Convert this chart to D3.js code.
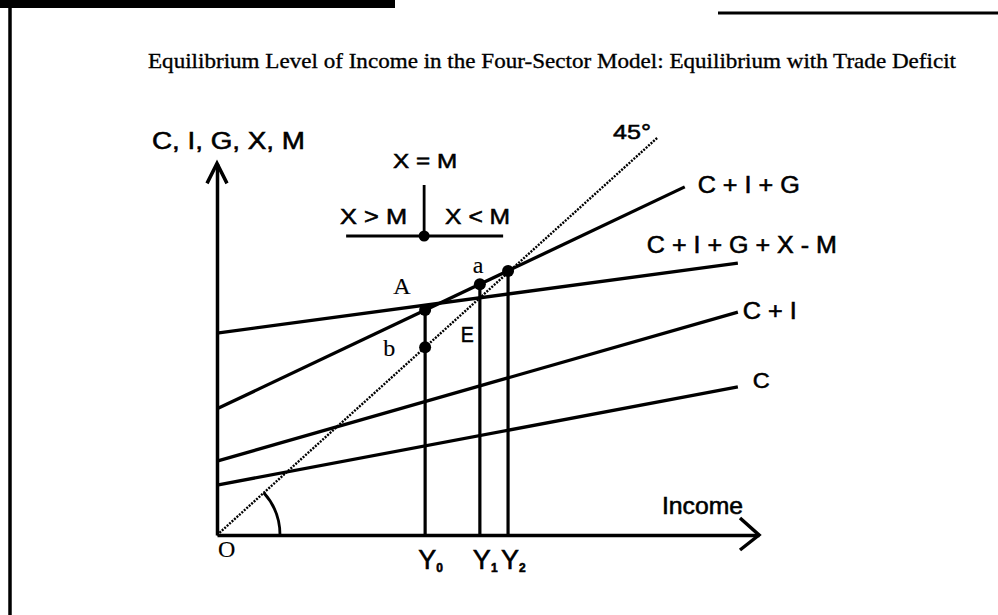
<!DOCTYPE html>
<html><head><meta charset="utf-8">
<script src="https://cdn.jsdelivr.net/npm/d3@7"></script>
<style>body{margin:0;background:#fff} svg{display:block} text{fill:#000;stroke:#000;stroke-width:0.55px} text.serif{stroke-width:0.15px}</style>
</head><body><svg id="c" width="998" height="615"></svg>
<script>
// ---- data ----
const titleText = "Equilibrium Level of Income in the Four-Sector Model: Equilibrium with Trade Deficit";
const yAxisTitle = "C, I, G, X, M";
const xAxisTitle = "Income";
const seriesNames = ["C", "C + I", "C + I + G", "C + I + G + X - M"];
const seriesStart = [10.2, 15.1, 25.8, 41.3];      // value at income 0
const seriesEndIncome = [96.1, 96.1, 86.3, 96.1];
const seriesEnd = [30.3, 45.6, 71.2, 55.6];
const line45End = 81.2;
const incomeLevels = [38.4, 48.5, 53.7];
const incomeSubs = ["0", "1", "2"];
const incomeTops = [46.0, 51.3, 54.0];
const pointNames = ["A", "a", "b", ""];
const pointIncome = [38.4, 48.5, 38.4, 53.7];
const pointValue = [46.0, 51.3, 38.4, 54.0];
const insetTop = "X = M", insetLeft = "X > M", insetRight = "X < M";

// ---- layout ----
const svg = d3.select("#c");
const x = d3.scaleLinear().domain([0, 100]).range([217, 759]);
const y = d3.scaleLinear().domain([0, 76]).range([535, 163.4]);
const SANS = "'Liberation Sans', Arial, sans-serif";
const SERIF = "'Liberation Serif', 'Times New Roman', serif";

// frame decorations
svg.append("rect").attr("x", 0).attr("y", 0).attr("width", 395).attr("height", 8).attr("fill", "#000");
svg.append("line").attr("x1", 10).attr("x2", 10).attr("y1", 0).attr("y2", 615).attr("stroke", "#000").attr("stroke-width", 3.5);
svg.append("line").attr("x1", 718).attr("x2", 998).attr("y1", 13).attr("y2", 13).attr("stroke", "#000").attr("stroke-width", 3);

// title
svg.append("text").attr("x", 148).attr("y", 68).attr("font-family", SERIF).attr("font-size", 22)
  .style("stroke-width", "0.35px")
  .attr("textLength", 808).attr("lengthAdjust", "spacingAndGlyphs").text(titleText);

// axes
svg.append("g").attr("transform", `translate(0,${y(0)})`)
  .call(d3.axisBottom(x).tickValues([]).tickSizeOuter(0));
svg.append("g").attr("transform", `translate(${x(0)},0)`)
  .call(d3.axisLeft(y).tickValues([]).tickSizeOuter(0));
svg.selectAll(".domain").attr("stroke", "#000").attr("stroke-width", 3.5);

// arrowheads
const ax = x(100), ay = y(0);
svg.append("path").attr("d", `M${ax-19},${ay-17} L${ax},${ay} L${ax-19},${ay+15}`)
  .attr("fill", "none").attr("stroke", "#000").attr("stroke-width", 3.5);
const tx = x(0), ty = y(76);
svg.append("path").attr("d", `M${tx-10},${ty+20} L${tx},${ty} L${tx+10},${ty+20}`)
  .attr("fill", "none").attr("stroke", "#000").attr("stroke-width", 3.5);

// axis titles
svg.append("text").attr("x", 152).attr("y", 149).attr("font-family", SANS).attr("font-size", 23)
  .attr("textLength", 153).attr("lengthAdjust", "spacingAndGlyphs").text(yAxisTitle);
svg.append("text").attr("x", 662).attr("y", 514).attr("font-family", SANS).attr("font-size", 23)
  .attr("textLength", 81).attr("lengthAdjust", "spacingAndGlyphs").text(xAxisTitle);

// 45 degree line
const lineGen = d3.line().x(d => x(d[0])).y(d => y(d[1]));
svg.append("path").attr("d", lineGen([[0, 0], [line45End, line45End]]))
  .attr("fill", "none").attr("stroke", "#000").attr("stroke-width", 2.4).attr("stroke-dasharray", "2,1.3");
svg.append("text").attr("x", 613).attr("y", 139).attr("font-family", SANS).attr("font-size", 21)
  .attr("textLength", 38).attr("lengthAdjust", "spacingAndGlyphs").text("45°");

// angle arc
const r = 63, ang = Math.atan2(y(0) - y(line45End), x(line45End) - x(0));
svg.append("path")
  .attr("d", `M${x(0)+r},${y(0)} A${r},${r} 0 0 0 ${x(0)+r*Math.cos(ang)},${y(0)-r*Math.sin(ang)}`)
  .attr("fill", "none").attr("stroke", "#000").attr("stroke-width", 2.8);

// vertical income lines
incomeLevels.forEach((v, i) => {
  svg.append("line").attr("x1", x(v)).attr("x2", x(v)).attr("y1", y(0)).attr("y2", y(incomeTops[i]))
    .attr("stroke", "#000").attr("stroke-width", 3.2);
});

// expenditure lines
const labelPos = [
  {dx: 15, dy: 1, w: 17, fs: 22},
  {dx: 5, dy: 7, w: 54, fs: 23},
  {dx: 13, dy: 6, w: 102, fs: 23},
  {dx: -91, dy: -10, w: 190, fs: 23}
];
seriesNames.forEach((n, i) => {
  const pts = [[0, seriesStart[i]], [seriesEndIncome[i], seriesEnd[i]]];
  svg.append("path").attr("d", lineGen(pts)).attr("fill", "none").attr("stroke", "#000").attr("stroke-width", 3.3);
  const p = labelPos[i];
  svg.append("text").attr("x", x(seriesEndIncome[i]) + p.dx).attr("y", y(seriesEnd[i]) + p.dy)
    .attr("font-family", SANS).attr("font-size", p.fs)
    .attr("textLength", p.w).attr("lengthAdjust", "spacingAndGlyphs").text(n);
});

// points
pointNames.forEach((n, i) => {
  svg.append("circle").attr("cx", x(pointIncome[i])).attr("cy", y(pointValue[i])).attr("r", 6).attr("fill", "#000");
});
const ptLabel = [{dx: -32, dy: -16}, {dx: -7, dy: -11}, {dx: -42, dy: 9}];
pointNames.slice(0, 3).forEach((n, i) => {
  svg.append("text").attr("class", "serif").attr("x", x(pointIncome[i]) + ptLabel[i].dx).attr("y", y(pointValue[i]) + ptLabel[i].dy)
    .attr("font-family", SERIF).attr("font-size", 24).text(n);
});
svg.append("text").attr("x", x(incomeLevels[1]) - 19).attr("y", 342).attr("font-family", SANS).attr("font-size", 22)
  .attr("textLength", 13).attr("lengthAdjust", "spacingAndGlyphs").text("E");

// origin label
svg.append("text").attr("class", "serif").attr("x", x(0) + 1).attr("y", 557).attr("font-family", SERIF).attr("font-size", 24).text("O");

// income level labels
incomeLevels.forEach((v, i) => {
  const t = svg.append("text").attr("x", x(v) - 7).attr("y", 569).attr("font-family", SANS);
  t.append("tspan").attr("font-size", 27).text("Y");
  t.append("tspan").attr("font-size", 12).attr("font-weight", "bold").attr("dy", 3).text(incomeSubs[i]);
});

// inset X = M diagram
const cx0 = x(incomeLevels[0]) - 1, cy0 = 236;
svg.append("line").attr("x1", cx0 - 78).attr("x2", cx0 + 79).attr("y1", cy0).attr("y2", cy0).attr("stroke", "#000").attr("stroke-width", 2.8);
svg.append("line").attr("x1", cx0).attr("x2", cx0).attr("y1", cy0 - 51).attr("y2", cy0).attr("stroke", "#000").attr("stroke-width", 2.8);
svg.append("circle").attr("cx", cx0).attr("cy", cy0).attr("r", 5.5).attr("fill", "#000");
svg.append("text").attr("x", cx0 - 31).attr("y", 168).attr("font-family", SANS).attr("font-size", 21)
  .attr("textLength", 64).attr("lengthAdjust", "spacingAndGlyphs").text(insetTop);
svg.append("text").attr("x", cx0 - 84).attr("y", 224).attr("font-family", SANS).attr("font-size", 22)
  .attr("textLength", 67).attr("lengthAdjust", "spacingAndGlyphs").text(insetLeft);
svg.append("text").attr("x", cx0 + 21).attr("y", 224).attr("font-family", SANS).attr("font-size", 22)
  .attr("textLength", 65).attr("lengthAdjust", "spacingAndGlyphs").text(insetRight);
</script></body></html>
